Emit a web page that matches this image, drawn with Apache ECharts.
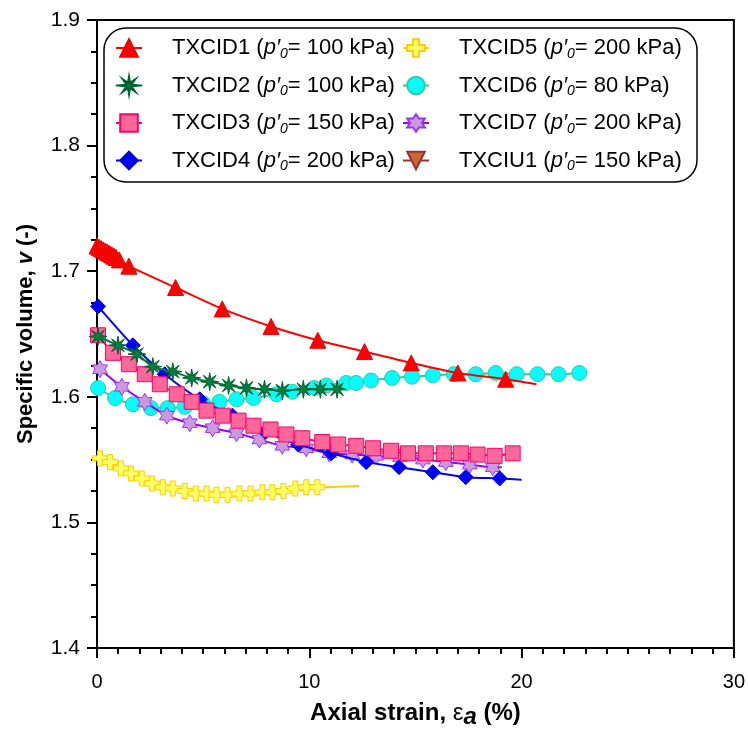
<!DOCTYPE html>
<html>
<head>
<meta charset="utf-8">
<script src="https://cdn.jsdelivr.net/npm/echarts@6/dist/echarts.min.js"></script>
<style>
  html, body { margin: 0; padding: 0; background: #fff; }
  #chart { width: 748px; height: 734px; }
</style>
</head>
<body>
<div id="chart"></div>
<script>
// Test identifiers and initial mean effective stress p'0 (kPa)
const testNames = ['TXCID1', 'TXCID2', 'TXCID3', 'TXCID4', 'TXCID5', 'TXCID6', 'TXCID7', 'TXCIU1'];
const testP0 = [100, 100, 150, 200, 200, 80, 200, 150];

// Axial strain (%) and specific volume (-) for each test.
// The final entry of a curve (where flagged) is the end of the trace, drawn without a marker.
const txcid1Strain = [0, 0.1, 0.2, 0.3, 0.4, 0.5, 0.6, 0.7, 0.8, 0.9, 1.05, 1.5, 3.7, 5.9, 8.2, 10.4, 12.6, 14.8, 17.0, 19.25, 20.7];
const txcid1V      = [1.720, 1.719, 1.718, 1.717, 1.716, 1.715, 1.714, 1.713, 1.712, 1.711, 1.709, 1.704, 1.687, 1.670, 1.656, 1.645, 1.636, 1.627, 1.619, 1.614, 1.610];

const txcid2Strain = [0.05, 0.99, 1.88, 2.63, 3.57, 4.46, 5.31, 6.2, 7.04, 7.89, 8.73, 9.72, 10.52, 11.31, 11.6];
const txcid2V      = [1.648, 1.641, 1.634, 1.624, 1.620, 1.615, 1.612, 1.609, 1.607, 1.606, 1.605, 1.606, 1.606, 1.606, 1.607];

const txcid3Strain = [0.05, 0.75, 1.5, 2.25, 2.96, 3.76, 4.46, 5.16, 5.92, 6.67, 7.37, 8.17, 8.92, 9.67, 10.61, 11.36, 12.21, 13.0, 13.85, 14.65, 15.49, 16.34, 17.14, 17.93, 18.73, 19.58];
const txcid3V      = [1.649, 1.635, 1.626, 1.618, 1.610, 1.602, 1.596, 1.589, 1.585, 1.581, 1.577, 1.574, 1.570, 1.567, 1.564, 1.562, 1.561, 1.559, 1.557, 1.555, 1.555, 1.555, 1.555, 1.554, 1.553, 1.555];

const txcid4Strain = [0.05, 1.69, 3.19, 4.84, 6.38, 7.93, 9.48, 11.03, 12.68, 14.23, 15.82, 17.37, 18.97, 20.0];
const txcid4V      = [1.672, 1.641, 1.618, 1.598, 1.585, 1.572, 1.562, 1.555, 1.548, 1.544, 1.540, 1.536, 1.535, 1.534];

const txcid5Strain = [0.14, 0.61, 1.13, 1.6, 2.11, 2.58, 3.1, 3.57, 4.13, 4.65, 5.16, 5.63, 6.15, 6.71, 7.23, 7.79, 8.26, 8.78, 9.34, 9.86, 10.38, 12.35];
const txcid5V      = [1.551, 1.548, 1.543, 1.539, 1.535, 1.531, 1.528, 1.527, 1.525, 1.523, 1.523, 1.522, 1.522, 1.523, 1.523, 1.524, 1.524, 1.525, 1.527, 1.528, 1.528, 1.529];

const txcid6Strain = [0.05, 0.85, 1.69, 2.54, 3.33, 4.13, 4.98, 5.77, 6.57, 7.37, 8.45, 9.2, 10.23, 10.8, 11.74, 12.2, 12.91, 13.9, 14.84, 15.82, 16.81, 17.84, 18.78, 19.77, 20.75, 21.74, 22.72];
const txcid6V      = [1.607, 1.599, 1.594, 1.591, 1.591, 1.592, 1.595, 1.596, 1.598, 1.599, 1.602, 1.604, 1.607, 1.609, 1.611, 1.611, 1.613, 1.615, 1.616, 1.617, 1.618, 1.618, 1.619, 1.618, 1.618, 1.618, 1.619];

const txcid7Strain = [0.14, 1.17, 2.25, 3.29, 4.37, 5.45, 6.57, 7.65, 8.73, 9.86, 10.94, 12.02, 13.15, 14.27, 15.35, 16.43, 17.56, 18.64, 19.06];
const txcid7V      = [1.622, 1.608, 1.596, 1.585, 1.579, 1.575, 1.571, 1.566, 1.561, 1.559, 1.555, 1.554, 1.553, 1.552, 1.550, 1.548, 1.546, 1.544, 1.544];

const txciu1Strain = [];
const txciu1V      = [];

// Axis ranges and tick spacing
const xRange = [0, 30], xStep = 10;
const yRange = [1.4, 1.9], yStep = 0.1;

// Marker outlines
function starPath(points, inner) {
  const pts = [];
  for (let i = 0; i < points * 2; i++) {
    const r = i % 2 ? inner : 1;
    const a = -Math.PI / 2 + i * Math.PI / points;
    pts.push((r * Math.cos(a)).toFixed(4) + ',' + (r * Math.sin(a)).toFixed(4));
  }
  return 'path://M' + pts.join('L') + 'Z';
}
const plusPath = 'path://M1,0H2V1H3V2H2V3H1V2H0V1H1Z';
const burstPath = starPath(8, 0.32);
const hexStarPath = starPath(6, 0.58);

function pairs(xs, ys, lastPlain) {
  return xs.map((x, i) => {
    const item = { value: [x, ys[i]] };
    if (lastPlain && i === xs.length - 1) item.symbol = 'none';
    return item;
  });
}

const styles = [
  { line: '#ff0000', fill: '#ff0000', border: '#ee0000', symbol: 'triangle', size: 16, data: pairs(txcid1Strain, txcid1V, true) },
  { line: '#00803c', fill: '#008040', border: '#006030', symbol: burstPath, size: 18, data: pairs(txcid2Strain, txcid2V, true) },
  { line: '#ff0066', fill: '#ff6699', border: '#ff0066', symbol: 'rect', size: 15, data: pairs(txcid3Strain, txcid3V, false) },
  { line: '#0000ff', fill: '#0000ff', border: '#0000cc', symbol: 'diamond', size: 15, data: pairs(txcid4Strain, txcid4V, true) },
  { line: '#ffcc00', fill: '#ffff66', border: '#ffcc00', symbol: plusPath, size: 15, data: pairs(txcid5Strain, txcid5V, true) },
  { line: '#33cc99', fill: '#00ffff', border: '#33cc99', symbol: 'circle', size: 15, data: pairs(txcid6Strain, txcid6V, false) },
  { line: '#9900ff', fill: '#cc99dd', border: '#9933ff', symbol: hexStarPath, size: 17, data: pairs(txcid7Strain, txcid7V, true) },
  { line: '#993333', fill: '#cc6633', border: '#993333', symbol: 'triangle', size: 16, rotate: 180, data: pairs(txciu1Strain, txciu1V, false) }
];

// Drawing order (later on top)
const drawOrder = [7, 5, 6, 4, 3, 2, 1, 0];

const series = drawOrder.map(i => {
  const s = styles[i];
  return {
    name: testNames[i],
    type: 'line',
    data: s.data,
    smooth: 0.25,
    symbol: s.symbol,
    symbolSize: s.size,
    symbolRotate: s.rotate || 0,
    symbolKeepAspect: true,
    showAllSymbol: true,
    lineStyle: { color: s.line, width: 2 },
    itemStyle: { color: s.fill, borderColor: s.border, borderWidth: 1, opacity: 1 },
    emphasis: { disabled: true },
    animation: false,
    z: 2 + drawOrder.indexOf(i) * 0.01
  };
});

const font = "'Liberation Sans', Arial, sans-serif";
const legendRich = {
  gap: { width: 25, fontSize: 22, lineHeight: 26 },
  t: { fontFamily: font, fontSize: 22, color: '#000', lineHeight: 26 },
  i: { fontFamily: font, fontSize: 22, fontStyle: 'italic', color: '#000', lineHeight: 26 },
  s: { fontFamily: font, fontSize: 14, fontStyle: 'italic', color: '#000', lineHeight: 26, verticalAlign: 'bottom', padding: [10, 0, 0, 0] }
};
function legendLabel(name) {
  const p0 = testP0[testNames.indexOf(name)];
  return '{gap|}{t|' + name + ' (}{i|p′}{s|0}{t|= ' + p0 + ' kPa)}';
}
function legendColumn(names, left) {
  return {
    data: names,
    orient: 'vertical',
    left: left,
    top: 32,
    itemWidth: 26,
    itemHeight: 22,
    itemGap: 13.5,
    selectedMode: false,
    formatter: legendLabel,
    textStyle: { rich: legendRich },
    z: 6
  };
}

const chart = echarts.init(document.getElementById('chart'), null, { renderer: 'canvas' });
chart.setOption({
  animation: false,
  backgroundColor: '#fff',
  grid: { left: 97, right: 12, top: 20, bottom: 80, show: true, borderColor: '#000', borderWidth: 2, backgroundColor: 'transparent' },
  graphic: [{
    type: 'rect',
    shape: { x: 104, y: 28, width: 593, height: 154, r: 22 },
    style: { fill: '#fff', stroke: '#000', lineWidth: 1.5 },
    z: 5
  }],
  legend: [
    legendColumn(testNames.slice(0, 4), 110),
    legendColumn(testNames.slice(4, 8), 397)
  ],
  xAxis: {
    type: 'value',
    min: xRange[0], max: xRange[1], interval: xStep,
    splitLine: { show: false },
    axisLine: { show: true, onZero: false, lineStyle: { color: '#000', width: 2 } },
    axisTick: { show: true, inside: false, length: 10, lineStyle: { color: '#000', width: 2 } },
    minorTick: { show: true, splitNumber: 10, length: 6, lineStyle: { color: '#000', width: 2 } },
    axisLabel: { color: '#000', fontFamily: font, fontSize: 20, margin: 24 },
    name: '{b|Axial strain, }{e|ε}{a|a}{b| (%)}',
    nameLocation: 'middle',
    nameGap: 50,
    nameTextStyle: {
      rich: {
        b: { fontFamily: font, fontSize: 24, fontWeight: 'bold', color: '#000' },
        e: { fontFamily: font, fontSize: 24, color: '#000' },
        a: { fontFamily: font, fontSize: 24, fontWeight: 'bold', fontStyle: 'italic', color: '#000', padding: [7, 0, 0, 0] }
      }
    }
  },
  yAxis: {
    type: 'value',
    min: yRange[0], max: yRange[1], interval: yStep,
    splitLine: { show: false },
    axisLine: { show: true, onZero: false, lineStyle: { color: '#000', width: 2 } },
    axisTick: { show: true, inside: false, length: 10, lineStyle: { color: '#000', width: 2 } },
    minorTick: { show: true, splitNumber: 4, length: 6, lineStyle: { color: '#000', width: 2 } },
    axisLabel: { color: '#000', fontFamily: font, fontSize: 21, margin: 17, formatter: v => v.toFixed(1) },
    name: '{b|Specific volume, }{bi|v}{b| (-)}',
    nameLocation: 'middle',
    nameGap: 60,
    nameTextStyle: {
      rich: {
        b: { fontFamily: font, fontSize: 22, fontWeight: 'bold', color: '#000' },
        bi: { fontFamily: font, fontSize: 22, fontWeight: 'bold', fontStyle: 'italic', color: '#000' }
      }
    }
  },
  series: series
});
</script>
</body>
</html>
